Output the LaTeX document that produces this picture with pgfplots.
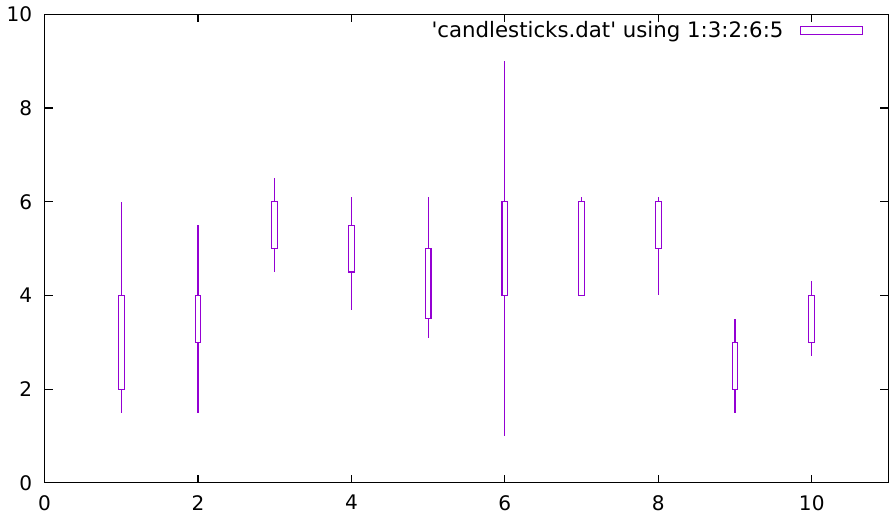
\documentclass[border=0pt]{standalone}
\usepackage{fontspec}
\setmainfont{DejaVu Sans}[Ligatures=TeXOff]
\usepackage{pgfplots}
\pgfplotsset{compat=1.18}
\usepgfplotslibrary{statistics}
\definecolor{gpviolet}{RGB}{148,0,211}

% one candle: draw position, low, open, close, high
\newcommand{\candle}[5]{%
  \addplot+[gpviolet, line width=0.8pt, solid, fill=none, forget plot,
    boxplot/draw direction=y,
    boxplot prepared={draw position=#1, lower whisker=#2, lower quartile=#3,
      median=#3, upper quartile=#4, upper whisker=#5,
      box extend=0.075, whisker extend=0}]
    coordinates {};
}

\begin{document}
\fontsize{15}{18}\selectfont
\begin{tikzpicture}
\begin{axis}[
  scale only axis,
  width=630.75pt, height=350.25pt,
  xmin=0, xmax=11, ymin=0, ymax=10,
  xtick={0,2,...,10}, ytick={0,2,...,10},
  tick align=inside,
  major tick length=6pt,
  axis line style={black, line width=0.8pt},
  tick style={black, line width=0.8pt},
  /pgf/number format/assume math mode=true,
  tick label style={font=\fontsize{15}{18}\selectfont},
  xticklabel style={yshift=-4pt},
  yticklabel style={xshift=-4pt},
  legend style={draw=none, fill=none, at={(1,1)}, anchor=north east,
    xshift=-15.5pt, yshift=-1pt,
    font=\fontsize{15.9}{19}\selectfont},
  legend plot pos=right,
  legend cell align=right,
]
\candle{1}{1.5}{2}{4}{6}
\candle{2}{1.5}{3}{4}{5.5}
\candle{3}{4.5}{5}{6}{6.5}
\candle{4}{3.7}{4.5}{5.5}{6.1}
\candle{5}{3.1}{3.5}{5}{6.1}
\candle{6}{1}{4}{6}{9}
\candle{7}{4}{4}{6}{6.1}
\candle{8}{4}{5}{6}{6.1}
\candle{9}{1.5}{2}{3}{3.5}
\candle{10}{2.7}{3}{4}{4.3}
\addlegendimage{gpviolet, line width=0.8pt,
  legend image code/.code={\path (0pt,0pt);
    \draw[gpviolet, line width=0.8pt] (10.5pt,-3pt) rectangle (57pt,3pt);}}
\addlegendentry{'candlesticks.dat' using 1:3:2:6:5}
\end{axis}
\end{tikzpicture}
\end{document}
